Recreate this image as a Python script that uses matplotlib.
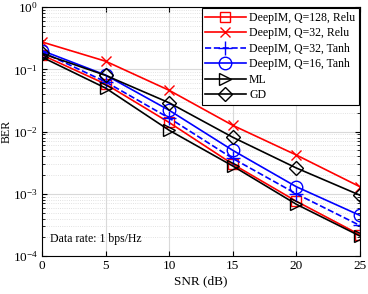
import matplotlib
matplotlib.use("Agg")
import matplotlib.pyplot as plt
import numpy as np

plt.rcParams['font.family'] = ['Liberation Serif', 'DejaVu Serif']
plt.rcParams['mathtext.fontset'] = 'stix'

snr = [0, 5, 10, 15, 20, 25]

# BER values
q128_relu = [0.17, 0.058, 0.014, 0.0030, 0.00076, 0.00022]
q32_relu = [0.275, 0.135, 0.046, 0.0126, 0.0042, 0.0013]
q32_tanh = [0.19, 0.063, 0.0165, 0.0037, 0.0010, 0.00031]
q16_tanh = [0.20, 0.081, 0.022, 0.0050, 0.0013, 0.00045]
ml = [0.157, 0.050, 0.0105, 0.0028, 0.00068, 0.00021]
gd = [0.18, 0.080, 0.029, 0.0081, 0.0026, 0.00095]

fig = plt.figure(figsize=(3.68, 2.94), dpi=100)
ax = fig.add_axes([0.114, 0.129, 0.864, 0.847])

lw = 1.2
ms = 7.5
ax.semilogy(snr, q128_relu, color='red', marker='s', mfc='none', lw=lw, ms=ms, mew=1.0,
            label='DeepIM, Q=128, Relu')
ax.semilogy(snr, q32_relu, color='red', marker='x', lw=lw, ms=ms, mew=1.0,
            label='DeepIM, Q=32, Relu')
ax.semilogy(snr, q32_tanh, color='blue', marker='+', ls='--', lw=lw, ms=10, mew=1.0,
            label='DeepIM, Q=32, Tanh')
ax.semilogy(snr, q16_tanh, color='blue', marker='o', mfc='none', lw=lw, ms=9, mew=1.0,
            label='DeepIM, Q=16, Tanh')
ax.semilogy(snr, ml, color='black', marker='>', mfc='none', lw=lw, ms=8, mew=1.0,
            label='ML')
ax.semilogy(snr, gd, color='black', marker='D', mfc='none', lw=lw, ms=7, mew=1.0,
            label='GD')

ax.set_xlim(0, 25)
ax.set_ylim(1e-4, 1)
ax.set_xticks([0, 5, 10, 15, 20, 25])
ax.set_yticks([1e-4, 1e-3, 1e-2, 1e-1, 1])
ax.tick_params(labelsize=9.5, direction='in', which='both', top=True, right=True, pad=3)
ax.grid(True, which='major', color='#d9d9d9', lw=0.8)
ax.grid(True, which='minor', color='#d9d9d9', lw=0.6, ls=':')
ax.set_xlabel('SNR (dB)', fontsize=9.5, labelpad=2)
fig.text(0.003, 0.5525, 'BER', fontsize=8.5, rotation=90, ha='left', va='center')
for s in ax.spines.values():
    s.set_linewidth(0.8)

ax.text(0.6, 1.7e-4, 'Data rate: 1 bps/Hz', fontsize=8.5)

leg = ax.legend(loc='upper right', fontsize=8.5, fancybox=False, framealpha=1,
                edgecolor='black', borderaxespad=0.1, handlelength=3.4,
                labelspacing=0.3, borderpad=0.3, handletextpad=0.3)
leg.get_frame().set_linewidth(0.8)

fig.savefig('out.png', dpi=100)
